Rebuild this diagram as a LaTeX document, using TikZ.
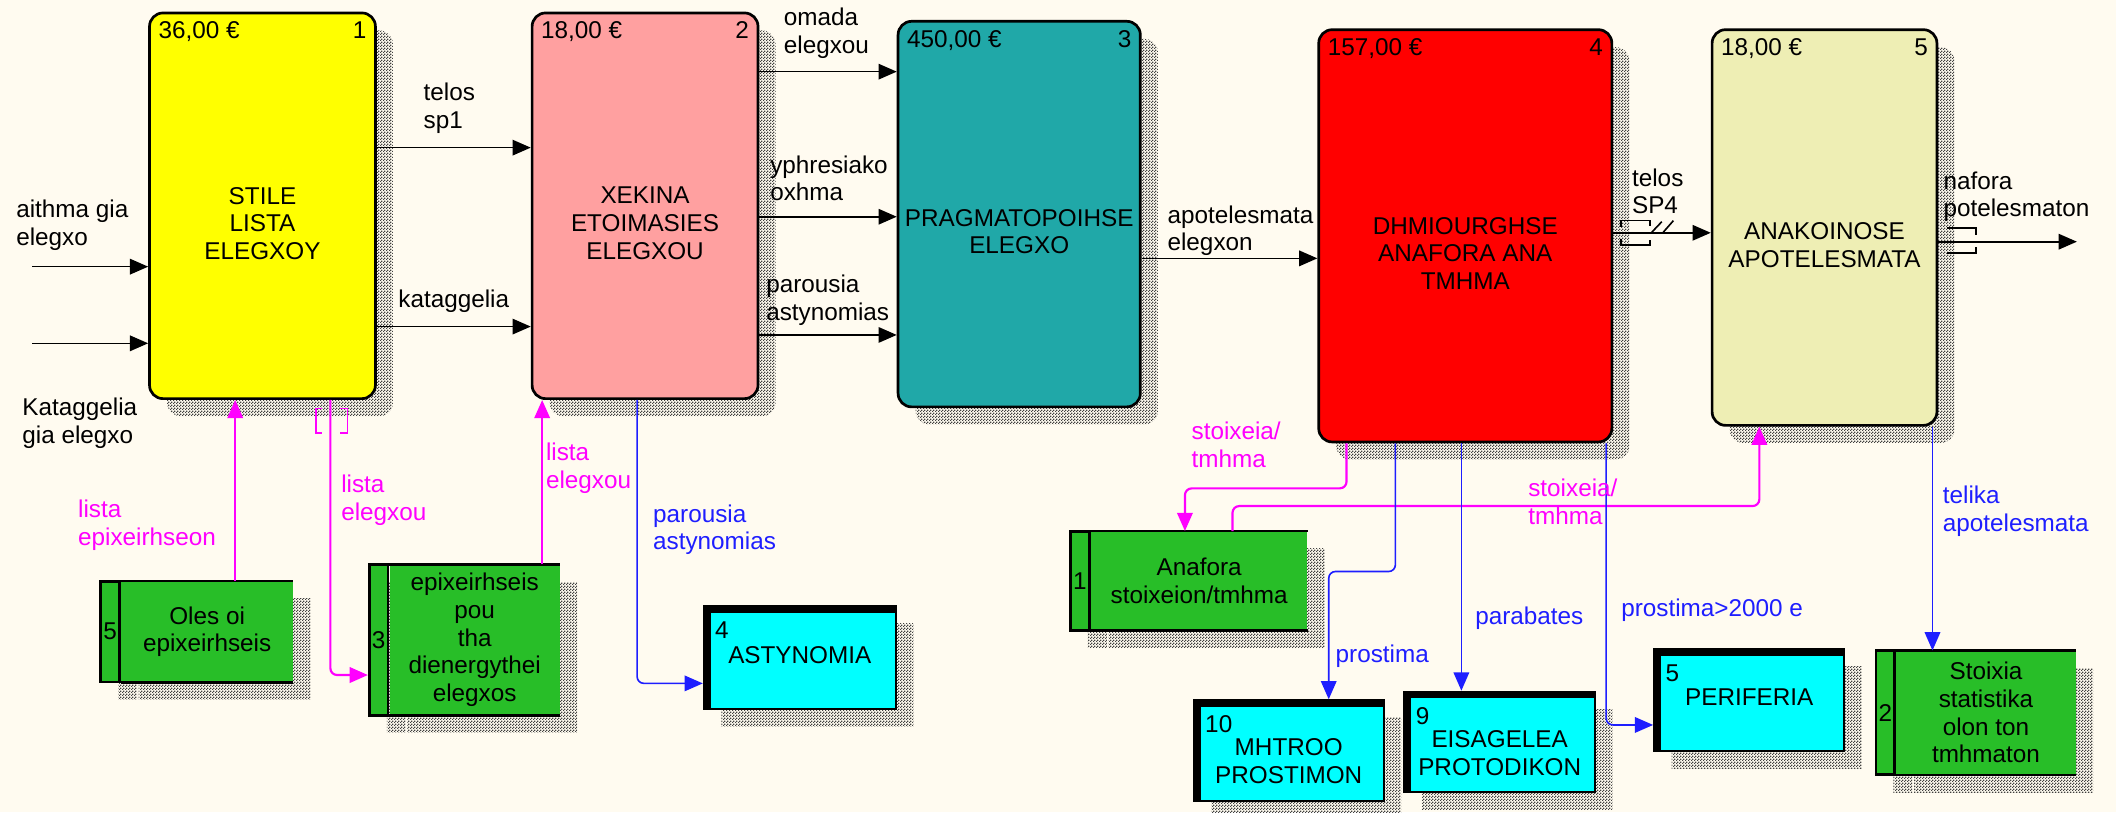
\documentclass[tikz,border=0pt]{standalone}
\usepackage{fontspec}
\setmainfont{Liberation Sans}
\usetikzlibrary{arrows.meta, positioning, shadows, patterns.meta}
\definecolor{bgcream}{RGB}{255,251,240}
\definecolor{boxyellow}{RGB}{255,255,0}
\definecolor{boxpink}{RGB}{255,160,160}
\definecolor{boxteal}{RGB}{32,168,168}
\definecolor{boxred}{RGB}{255,0,0}
\definecolor{boxbeige}{RGB}{238,238,180}
\definecolor{storegreen}{RGB}{40,190,40}
\definecolor{extcyan}{RGB}{0,255,255}
\definecolor{ctrlmagenta}{RGB}{255,0,255}
\definecolor{outblue}{RGB}{30,30,255}

\tikzdeclarepattern{
  name=dither,
  bounding box={(0pt,0pt) and (2pt,2pt)},
  tile size={(2pt,2pt)},
  code={
    \fill (0pt,0pt) rectangle (1pt,1pt);
    \fill (1pt,1pt) rectangle (2pt,2pt);
  }
}

\begin{document}
\begin{tikzpicture}[
  x=1pt, y=-1pt,
  font=\fontsize{18}{20.5}\selectfont,
  boxshadow/.style={drop shadow={shadow xshift=13pt, shadow yshift=-13pt,
      opacity=1, pattern=dither, pattern color=black!75}},
  actbox/.style={draw, line width=2pt, rounded corners=10pt, inner sep=0pt, boxshadow},
  acttext/.style={align=center, inner sep=1pt},
  costlbl/.style={anchor=north west, inner sep=7.5pt},
  numlbl/.style={anchor=north east, inner sep=7.5pt},
  storetag/.style={draw, line width=2pt, fill=storegreen, minimum width=14pt,
      inner sep=0pt, boxshadow},
  storebody/.style={fill=storegreen, inner sep=0pt, align=center, boxshadow,
      append after command={
        (\tikzlastnode.north west) edge[line width=2pt] (\tikzlastnode.north east)
        (\tikzlastnode.south west) edge[line width=2pt] (\tikzlastnode.south east)}},
  extbox/.style={draw, line width=1.5pt, fill=extcyan, inner sep=0pt, align=center,
      boxshadow,
      path picture={
        \fill[black] (path picture bounding box.north west) rectangle
          ([yshift=-5pt]path picture bounding box.north east);
        \fill[black] (path picture bounding box.north west) rectangle
          ([xshift=5pt]path picture bounding box.south west);}},
  extnum/.style={anchor=north west, inner sep=1pt, xshift=8pt, yshift=-11pt},
  lbl/.style={align=left, inner sep=1pt, anchor=west},
  arr/.style={-{Triangle[length=13.5pt, width=11.5pt]}, line width=1.2pt},
  ctrlarr/.style={arr, ctrlmagenta, line width=1.6pt, rounded corners=5pt},
  outarr/.style={arr, outblue, rounded corners=5pt},
  tunnel/.style={line width=1.2pt},
]

%% --- canvas ---
\useasboundingbox (0,0) rectangle (1568,602);
\fill[bgcream] (0,0) rectangle (1568,602);

%% --- activity boxes ---
\node[actbox, fill=boxyellow, minimum width=167.4pt, minimum height=285.8pt,
      label={[costlbl]north west:{36,00 €}}, label={[numlbl]north east:1}]
  (a1) at (194.5,152.5) {};
\node[actbox, fill=boxpink, minimum width=167.4pt, minimum height=285.8pt,
      label={[costlbl]north west:{18,00 €}}, label={[numlbl]north east:2}]
  (a2) at (478,152.5) {};
\node[actbox, fill=boxteal, minimum width=179.5pt, minimum height=285.7pt,
      label={[costlbl]north west:{450,00 €}}, label={[numlbl]north east:3}]
  (a3) at (755.25,158.65) {};
\node[actbox, fill=boxred, minimum width=217.2pt, minimum height=305.5pt,
      label={[costlbl]north west:{157,00 €}}, label={[numlbl]north east:4}]
  (a4) at (1085.8,174.75) {};
\node[actbox, fill=boxbeige, minimum width=166.6pt, minimum height=293.2pt,
      label={[costlbl]north west:{18,00 €}}, label={[numlbl]north east:5}]
  (a5) at (1352,168.6) {};

\node[acttext] (a1txt) at ([yshift=-13pt]a1.center) {STILE\\LISTA\\ELEGXOY};
\node[acttext] (a2txt) at ([yshift=-13pt]a2.center) {XEKINA\\ETOIMASIES\\ELEGXOU};
\node[acttext] (a3txt) at ([yshift=-13pt]a3.center) {PRAGMATOPOIHSE\\ELEGXO};
\node[acttext] (a4txt) at ([yshift=-13pt]a4.center) {DHMIOURGHSE\\ANAFORA ANA\\TMHMA};
\node[acttext] (a5txt) at ([yshift=-13pt]a5.center) {ANAKOINOSE\\APOTELESMATA};

%% --- data stores ---
\node[storetag, minimum height=74.6pt] (s5tag) at (81.6,468.1) {5};
\node[storebody, minimum height=74.6pt, minimum width=127.4pt, right=0pt of s5tag]
  (s5) {Oles oi\\epixeirhseis};
\node[storetag, minimum height=111.6pt] (s3tag) at (280.6,474.2) {3};
\node[storebody, minimum height=111.6pt, minimum width=125.9pt, right=0pt of s3tag]
  (s3) {epixeirhseis\\pou\\tha\\dienergythei\\elegxos};
\node[storetag, minimum height=73.4pt] (s1tag) at (800.2,430.4) {1};
\node[storebody, minimum height=73.4pt, minimum width=160.3pt, right=0pt of s1tag]
  (s1) {Anafora\\stoixeion/tmhma};
\node[storetag, minimum height=91.8pt] (s2tag) at (1397.1,528.1) {2};
\node[storebody, minimum height=91.8pt, minimum width=132.7pt, right=0pt of s2tag]
  (s2) {Stoixia\\statistika\\olon ton\\tmhmaton};

%% --- external entities ---
\node[extbox, minimum width=142.2pt, minimum height=76.3pt,
      label={[extnum]north west:4}] (ast) at (592.65,487.2) {};
\node[extbox, minimum width=140.6pt, minimum height=74.4pt,
      label={[extnum]north west:10}] (mht) at (954.95,556.15) {};
\node[extbox, minimum width=141.1pt, minimum height=74.6pt,
      label={[extnum]north west:9}] (eis) at (1111.3,549.85) {};
\node[extbox, minimum width=141pt, minimum height=75.1pt,
      label={[extnum]north west:5}] (peri) at (1296.25,518.7) {};

\node[acttext] (asttxt) at ([yshift=2pt]ast.center) {ASTYNOMIA};
\node[acttext] (mhttxt) at ([yshift=-8pt]mht.center) {MHTROO\\PROSTIMON};
\node[acttext] (eistxt) at ([yshift=-8pt]eis.center) {EISAGELEA\\PROTODIKON};
\node[acttext] (peritxt) at ([yshift=2pt]peri.center) {PERIFERIA};

%% --- inputs / outputs ---
\coordinate (in1) at (23.8,197.6);
\coordinate (in2) at (23.8,254.4);
\coordinate (out5) at (1539,179.1);

\draw[arr] (in1) -- (in1 -| a1.west);
\draw[arr] (in2) -- (in2 -| a1.west);
\draw[arr] ([yshift=43.1pt]a1.east) -- ([yshift=43.1pt]a1.east -| a2.west);
\draw[arr] ([yshift=-89.5pt]a1.east) -- ([yshift=-89.5pt]a1.east -| a2.west);
\draw[arr] ([yshift=99.4pt]a2.east) -- ([yshift=99.4pt]a2.east -| a3.west);
\draw[arr] ([yshift=-8.1pt]a2.east) -- ([yshift=-8.1pt]a2.east -| a3.west);
\draw[arr] ([yshift=-95.7pt]a2.east) -- ([yshift=-95.7pt]a2.east -| a3.west);
\draw[arr] ([yshift=-32.8pt]a3.east) -- ([yshift=-32.8pt]a3.east -| a4.west);
\draw[arr] ([yshift=2.25pt]a4.east) -- ([yshift=2.25pt]a4.east -| a5.west);
\draw[arr] ([yshift=-10.5pt]a5.east) -- (out5);

%% --- tunnels ---
\draw[tunnel] ([xshift=5.6pt, yshift=6.75pt]a4.east) -- ++(0,-4.5) -- ++(21.7,0) -- ++(0,4);
\draw[tunnel] ([xshift=5.6pt, yshift=-2.25pt]a4.east) -- ++(0,4.5) -- ++(21.7,0) -- ++(0,-4);
\draw[tunnel] ([xshift=28.6pt, yshift=2.65pt]a4.east) -- ++(7.4,-7.8);
\draw[tunnel] ([xshift=37.1pt, yshift=2.65pt]a4.east) -- ++(7.5,-8.6);
\draw[tunnel] ([xshift=6.2pt, yshift=-0.4pt]a5.east) -- ++(21.8,0) -- ++(0,5);
\draw[tunnel] ([xshift=6.2pt, yshift=-19pt]a5.east) -- ++(21.8,0) -- ++(0,-4.6);
\draw[tunnel, ctrlmagenta] ([xshift=43.9pt, yshift=-6.2pt]a1.south) -- ++(-4.2,0) -- ++(0,18.4) -- ++(4.2,0);
\draw[tunnel, ctrlmagenta] ([xshift=57.5pt, yshift=-6.2pt]a1.south) -- ++(5.4,0) -- ++(0,18.4) -- ++(-5.4,0);

%% --- controls (magenta) ---
\draw[ctrlarr] ([xshift=20.8pt]s5.north) -- ([xshift=20.8pt]s5.north |- a1.south);
\draw[ctrlarr] ([xshift=50.3pt]a1.south) |- ([yshift=-26pt]s3tag.west);
\draw[ctrlarr] ([xshift=50pt]s3.north) -- ([xshift=50pt]s3.north |- a2.south);
\draw[ctrlarr] ([xshift=-88pt]a4.south) -- ++(0,33.4) -| ([xshift=-10.5pt]s1.north);
\draw[ctrlarr] ([xshift=24.75pt]s1.north) -- ++(0,-18.5) -| ([xshift=-48.3pt]a5.south);

%% --- outputs to externals (blue) ---
\draw[outarr] ([xshift=-5.9pt]a2.south) |- ([yshift=-19.2pt]ast.west);
\draw[outarr] ([xshift=-51.8pt]a4.south) -- ++(0,95) -| ([xshift=29.65pt]mht.north);
\draw[outarr] ([xshift=-2.9pt]a4.south) -- ([xshift=-2.9pt]a4.south |- eis.north);
\draw[outarr] ([xshift=104.4pt]a4.south) |- ([yshift=-18.5pt]peri.west);
\draw[outarr] ([xshift=80pt]a5.south) -- ([xshift=80pt]a5.south |- s2.north);

%% --- arrow labels ---
\node[lbl] (l_aithma) at (10.9,167.1) {aithma gia\\elegxo};
\node[lbl] (l_katin) at (15.4,313.7) {Kataggelia\\gia elegxo};
\node[lbl] (l_telos1) at (312.7,80.2) {telos\\sp1};
\node[lbl] (l_katag) at (294,223.5) {kataggelia};
\node[lbl] (l_omada) at (579.7,24.7) {omada\\elegxou};
\node[lbl] (l_yphr) at (569.6,132.1) {yphresiako\\oxhma};
\node[lbl] (l_parous) at (566.6,222.3) {parousia\\astynomias};
\node[lbl] (l_apot) at (864,171) {apotelesmata\\elegxon};
\node[lbl] (l_telos4) at (1208.2,141.7) {telos\\SP4};
\node[lbl] (l_anaf) at (1439,145.8) {nafora\\potelesmaton};

\node[lbl, text=ctrlmagenta] (l_listep) at (56.7,389) {lista\\epixeirhseon};
\node[lbl, text=ctrlmagenta] (l_listel1) at (251.7,370.8) {lista\\elegxou};
\node[lbl, text=ctrlmagenta] (l_listel2) at (403.4,347) {lista\\elegxou};
\node[lbl, text=ctrlmagenta] (l_stoix1) at (881.8,329.8) {stoixeia/\\tmhma};
\node[lbl, text=ctrlmagenta] (l_stoix2) at (1131.3,371.8) {stoixeia/\\tmhma};

\node[lbl, text=outblue] (l_parous2) at (482.8,392.5) {parousia\\astynomias};
\node[lbl, text=outblue] (l_prost) at (988.6,485.9) {prostima};
\node[lbl, text=outblue] (l_parab) at (1092,458.2) {parabates};
\node[lbl, text=outblue] (l_prost2k) at (1200.2,452) {prostima>2000 e};
\node[lbl, text=outblue] (l_telika) at (1438.5,378.8) {telika\\apotelesmata};

\end{tikzpicture}
\end{document}
